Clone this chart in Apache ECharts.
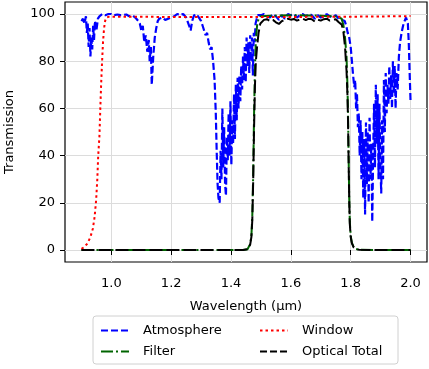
<!DOCTYPE html>
<html>
<head>
<meta charset="utf-8">
<script src="https://cdn.jsdelivr.net/npm/echarts@6/dist/echarts.min.js"></script>
<style>
  html, body { margin: 0; padding: 0; background: #fff; }
  #chart { width: 429px; height: 369px; }
</style>
</head>
<body>
<div id="chart"></div>
<script>
// wavelength (um), transmission (%)
const atmosphere = [
  [0.900, 97], [0.905, 98], [0.910, 96], [0.915, 99], [0.918, 92], [0.921, 96],
  [0.924, 86], [0.927, 94], [0.930, 82], [0.933, 90], [0.936, 85], [0.939, 95],
  [0.942, 89], [0.945, 97], [0.950, 93], [0.955, 98], [0.960, 99], [0.965, 99.5],
  [0.970, 100], [0.980, 99.5], [0.990, 100], [1.000, 100], [1.010, 99.5], [1.020, 99.8],
  [1.030, 99.5], [1.040, 99.6], [1.050, 99.8], [1.060, 99], [1.070, 99.5], [1.080, 98.5],
  [1.090, 97], [1.095, 96], [1.100, 93], [1.105, 95], [1.110, 88], [1.115, 91],
  [1.120, 84], [1.125, 89], [1.128, 80], [1.132, 86], [1.135, 70], [1.140, 82],
  [1.145, 90], [1.150, 94], [1.155, 97], [1.160, 98], [1.170, 98.5], [1.180, 97.5],
  [1.190, 98], [1.200, 98.5], [1.210, 99], [1.220, 100], [1.230, 99.5], [1.240, 100],
  [1.250, 98.5], [1.260, 95], [1.265, 93], [1.270, 97], [1.275, 99], [1.280, 100],
  [1.290, 99], [1.300, 97], [1.305, 95], [1.310, 93], [1.315, 91], [1.320, 92],
  [1.325, 88], [1.330, 85], [1.335, 86], [1.340, 80], [1.345, 72], [1.349, 58],
  [1.352, 42], [1.355, 28], [1.358, 22], [1.362, 20], [1.365, 42], [1.368, 30],
  [1.371, 60], [1.374, 35], [1.377, 52], [1.380, 28], [1.383, 23], [1.386, 48],
  [1.389, 38], [1.392, 58], [1.395, 40], [1.398, 63], [1.401, 36], [1.404, 55],
  [1.407, 45], [1.410, 66], [1.413, 47], [1.416, 70], [1.419, 55], [1.422, 73],
  [1.425, 60], [1.428, 74], [1.431, 63], [1.434, 78], [1.437, 68], [1.440, 82],
  [1.443, 72], [1.446, 86], [1.449, 71], [1.452, 90], [1.455, 78], [1.458, 88],
  [1.461, 75], [1.464, 91], [1.467, 80], [1.470, 90], [1.473, 74], [1.476, 92],
  [1.479, 88], [1.482, 96], [1.486, 98], [1.490, 99.5], [1.495, 100], [1.500, 99.5],
  [1.510, 100], [1.520, 99], [1.530, 98.5], [1.540, 100], [1.550, 99], [1.560, 97.5],
  [1.570, 99.5], [1.580, 98], [1.590, 100], [1.600, 99.5], [1.610, 100], [1.620, 98.5],
  [1.630, 99.5], [1.640, 100], [1.650, 99], [1.660, 100], [1.670, 99.5], [1.680, 98],
  [1.690, 99.5], [1.700, 98.5], [1.710, 99], [1.720, 100], [1.730, 99], [1.740, 98.5],
  [1.750, 99.5], [1.760, 98], [1.770, 97.5], [1.780, 97], [1.785, 95], [1.790, 92],
  [1.795, 90], [1.800, 86], [1.804, 80], [1.808, 74], [1.812, 69], [1.815, 72],
  [1.818, 60], [1.821, 66], [1.824, 52], [1.827, 58], [1.830, 40], [1.833, 55],
  [1.836, 30], [1.839, 50], [1.842, 22], [1.845, 47], [1.848, 15], [1.851, 54],
  [1.854, 28], [1.857, 50], [1.860, 20], [1.863, 56], [1.866, 30], [1.869, 45],
  [1.872, 12], [1.875, 40], [1.878, 62], [1.881, 35], [1.884, 70], [1.887, 45],
  [1.890, 66], [1.893, 30], [1.896, 62], [1.899, 38], [1.902, 24], [1.905, 55],
  [1.908, 30], [1.911, 72], [1.914, 50], [1.917, 75], [1.920, 58], [1.923, 70],
  [1.926, 62], [1.929, 78], [1.932, 64], [1.935, 74], [1.938, 60], [1.941, 80],
  [1.944, 66], [1.947, 78], [1.950, 60], [1.953, 75], [1.957, 68], [1.961, 82],
  [1.965, 88], [1.970, 92], [1.975, 95], [1.980, 97], [1.985, 98.5], [1.988, 99],
  [1.991, 96], [1.994, 88], [1.997, 75], [2.000, 63]
]

const windowT = [
  [0.900, 0.5], [0.910, 1.3], [0.920, 2.8], [0.930, 5.5], [0.938, 9], [0.944, 14],
  [0.949, 21], [0.953, 30], [0.956, 40], [0.960, 48], [0.963, 60], [0.966, 71],
  [0.969, 80], [0.972, 88], [0.975, 93], [0.978, 96.5], [0.982, 98.3], [0.990, 98.8],
  [1.100, 98.8], [1.300, 98.7], [1.500, 98.7], [1.700, 98.8], [1.850, 98.9], [2.000, 99.1]
]

const filterT = [
  [0.900, 0], [1.000, 0], [1.100, 0], [1.200, 0], [1.300, 0], [1.400, 0], [1.440, 0],
  [1.455, 0.3], [1.460, 1], [1.464, 2.5], [1.468, 6], [1.471, 14], [1.474, 32],
  [1.477, 58], [1.480, 78], [1.483, 89], [1.487, 95], [1.492, 98], [1.498, 99],
  [1.550, 99.3], [1.600, 99.5], [1.650, 99.4], [1.700, 99.3], [1.750, 99], [1.770, 98],
  [1.776, 95], [1.781, 90], [1.786, 82], [1.789, 70], [1.791, 58], [1.793, 40],
  [1.795, 22], [1.797, 12], [1.800, 6], [1.804, 3], [1.810, 1.2], [1.818, 0.4],
  [1.828, 0.1], [1.900, 0], [2.000, 0]
]

const opticalTotal = [
  [0.900, 0], [1.000, 0], [1.100, 0], [1.200, 0], [1.300, 0], [1.400, 0], [1.440, 0],
  [1.455, 0.3], [1.460, 1], [1.464, 2.3], [1.468, 5.5], [1.471, 12.5], [1.474, 29],
  [1.477, 52], [1.480, 70], [1.483, 80], [1.487, 86], [1.492, 92], [1.498, 96],
  [1.510, 97.5], [1.520, 97.8], [1.530, 97], [1.540, 97.5], [1.550, 96.5], [1.560, 95.8],
  [1.570, 97], [1.580, 97.5], [1.590, 98], [1.600, 97.6], [1.610, 97.9], [1.620, 97.2],
  [1.630, 97.6], [1.640, 98], [1.650, 97.4], [1.660, 98], [1.670, 97.8], [1.680, 96.8],
  [1.690, 97.6], [1.700, 97.2], [1.710, 97.8], [1.720, 98], [1.730, 97.2], [1.740, 97.5],
  [1.750, 97.8], [1.760, 96.5], [1.770, 95.5], [1.776, 92], [1.781, 86], [1.786, 76],
  [1.789, 66], [1.791, 55], [1.793, 38], [1.795, 21], [1.797, 11], [1.800, 5.5],
  [1.804, 2.8], [1.810, 1.1], [1.818, 0.4], [1.828, 0.1], [1.900, 0], [2.000, 0]
]

const xTicks = [1.0, 1.2, 1.4, 1.6, 1.8, 2.0]
const yTicks = [0, 20, 40, 60, 80, 100]

const font = 'DejaVu Sans'
const chart = echarts.init(document.getElementById('chart'), null, { renderer: 'canvas' })

const blueDash = [7, 3]
const blackDash = [13, 4]
const greenDashDot = [12, 3, 2, 3]
const redDot = [2.5, 3]

// pad first-column legend labels so the second column lines up
// (a transparent background makes the padding count in the legend layout)
const measure = document.createElement('canvas').getContext('2d')
measure.font = '13px "DejaVu Sans"'
const colPad = name => ({
  backgroundColor: 'rgba(255,255,255,0)',
  padding: [0, Math.max(0, 108 - measure.measureText(name).width), 0, 9]
})

let option = {
  animation: false,
  textStyle: { fontFamily: font },
  grid: {
    left: 65,
    right: 2,
    top: 2,
    bottom: 107,
    outerBoundsMode: 'none',
    show: true,
    borderColor: '#000',
    borderWidth: 1.2
  },
  xAxis: {
    type: 'value',
    min: 0.845,
    max: 2.055,
    name: 'Wavelength (µm)',
    nameLocation: 'middle',
    nameGap: 38,
    nameTextStyle: { color: '#000', fontSize: 13, fontFamily: font },
    axisLine: { show: false },
    axisTick: { show: true, length: 5, customValues: xTicks, lineStyle: { color: '#000' } },
    axisLabel: {
      customValues: xTicks,
      color: '#000',
      fontSize: 13,
      fontFamily: font,
      margin: 15,
      formatter: v => v.toFixed(1)
    },
    splitLine: { show: true, lineStyle: { color: '#dcdcdc', width: 1 } }
  },
  yAxis: {
    type: 'value',
    min: -5.08,
    max: 105.08,
    name: 'Transmission',
    nameLocation: 'middle',
    nameGap: 49,
    nameTextStyle: { color: '#000', fontSize: 13, fontFamily: font },
    axisLine: { show: false },
    axisTick: { show: true, length: 5, customValues: yTicks, lineStyle: { color: '#000' } },
    axisLabel: {
      customValues: yTicks,
      color: '#000',
      fontSize: 13,
      fontFamily: font,
      margin: 10
    },
    splitLine: { show: true, lineStyle: { color: '#dcdcdc', width: 1 } }
  },
  legend: {
    orient: 'horizontal',
    left: 95,
    top: 319,
    width: 300,
    itemWidth: 28,
    itemHeight: 14,
    itemGap: 8,
    itemStyle: { opacity: 0 },
    textStyle: { color: '#000', fontSize: 13, fontFamily: font, padding: [0, 0, 0, 9] },
    data: [
      { name: 'Atmosphere', lineStyle: { type: blueDash }, textStyle: colPad('Atmosphere') },
      { name: 'Window', lineStyle: { type: redDot } },
      { name: 'Filter', lineStyle: { type: greenDashDot }, textStyle: colPad('Filter') },
      { name: 'Optical Total', lineStyle: { type: blueDash } }
    ]
  },
  graphic: [{
    type: 'rect',
    shape: { x: 93, y: 316, width: 305, height: 48, r: 3 },
    style: { fill: 'rgba(255,255,255,0.8)', stroke: '#d0d0d0', lineWidth: 1 },
    z: -1
  }],
  series: [
    {
      name: 'Atmosphere',
      type: 'line',
      data: atmosphere,
      showSymbol: false,
      symbol: 'none',
      lineStyle: { color: '#0000ff', width: 2.2, type: blueDash },
      itemStyle: { color: '#0000ff' },
      z: 2
    },
    {
      name: 'Filter',
      type: 'line',
      data: filterT,
      showSymbol: false,
      symbol: 'none',
      lineStyle: { color: '#006400', width: 2, type: greenDashDot },
      itemStyle: { color: '#006400' },
      z: 3
    },
    {
      name: 'Window',
      type: 'line',
      data: windowT,
      showSymbol: false,
      symbol: 'none',
      lineStyle: { color: '#ff0000', width: 2, type: redDot },
      itemStyle: { color: '#ff0000' },
      z: 4
    },
    {
      name: 'Optical Total',
      type: 'line',
      data: opticalTotal,
      showSymbol: false,
      symbol: 'none',
      lineStyle: { color: '#000000', width: 2, type: blackDash },
      itemStyle: { color: '#000000' },
      z: 5
    }
  ]
}

chart.setOption(option)
</script>
</body>
</html>
